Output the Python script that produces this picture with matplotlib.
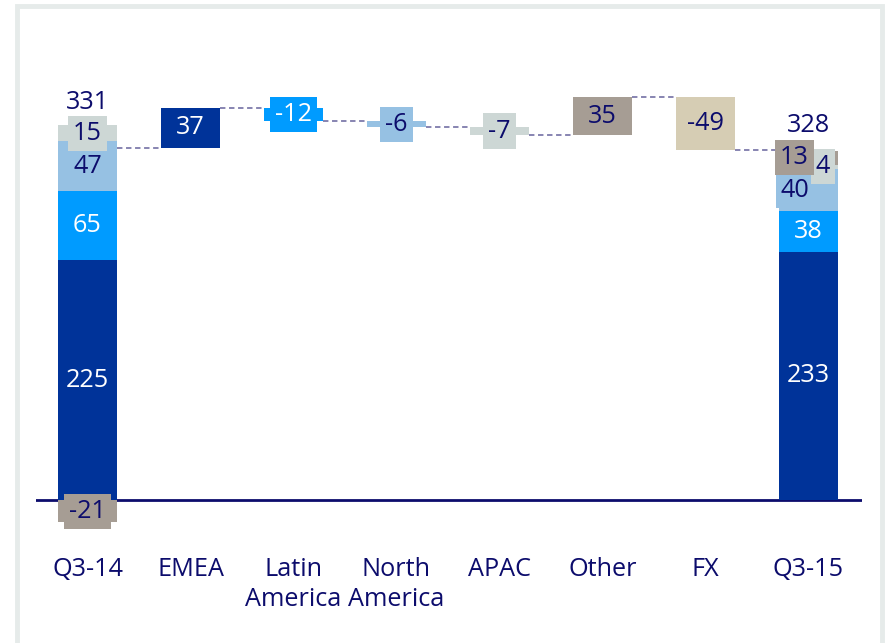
import matplotlib
matplotlib.use("Agg")
import matplotlib.pyplot as plt
from matplotlib.patches import Rectangle

plt.rcParams["font.family"] = ["Open Sans", "DejaVu Sans"]

# ── data ─────────────────────────────────────────────────────────
categories = ["Q3-14", "EMEA", "Latin\nAmerica", "North\nAmerica", "APAC", "Other", "FX", "Q3-15"]

start_parts = [225, 65, 47, 15]          # Q3-14, stacked from zero
start_negative = -21                      # Q3-14 "Other", below the axis
start_total = 331

changes = [37, -12, -6, -7, 35, -49]      # EMEA .. FX

end_parts = [233, 38, 40, 4, 13]          # Q3-15, stacked from zero
end_total = 328

# ── styling ──────────────────────────────────────────────────────
NAVY = "#0c0c6c"
DARK = "#003399"
BRIGHT = "#009bff"
LIGHT = "#96c1e3"
GREY = "#cdd7d5"
BROWN = "#a69d94"
BEIGE = "#d6cdb4"
DASH = "#7e7bab"

start_colors = [DARK, BRIGHT, LIGHT, GREY]
change_colors = [DARK, BRIGHT, LIGHT, GREY, BROWN, BEIGE]
end_colors = [DARK, BRIGHT, LIGHT, GREY, BROWN]
end_label_dx = [0, 0, -0.13, 0.14, -0.14]

WIDTH = 0.573
FS = 18.2


def text_color(c):
    return "white" if c in (DARK, BRIGHT) else NAVY


def seg_label(ax, x, y, value, color):
    ax.text(x, y, f"{value}", ha="center", va="center", fontsize=FS,
            color=text_color(color), zorder=5,
            bbox=dict(boxstyle="square,pad=0.2", fc=color, ec="none"))


fig = plt.figure(figsize=(8.85, 6.43), dpi=100)
ax = fig.add_axes([0.0407, 0.1561, 0.9333, 0.7619])

# Q3-14 stacked bar
bottom = 0
for v, c in zip(start_parts, start_colors):
    ax.bar(0, v, WIDTH, bottom=bottom, color=c, zorder=3)
    seg_label(ax, 0, bottom + v / 2, v, c)
    bottom += v
start_top = bottom
ax.bar(0, start_negative, WIDTH, color=BROWN, zorder=3)
seg_label(ax, 0, start_negative / 2, start_negative, BROWN)
ax.annotate(f"{start_total}", (0, start_top), xytext=(0, 16.5), textcoords="offset points",
            ha="center", va="center", fontsize=FS, color=NAVY)

# floating change bars with dashed connectors
running = start_total
for i, (v, c) in enumerate(zip(changes, change_colors), start=1):
    ax.plot([i - 1 + WIDTH / 2, i - WIDTH / 2], [running, running], ls=(0, (3, 2)),
            color=DASH, lw=1.3, zorder=2)
    ax.bar(i, v, WIDTH, bottom=running, color=c, zorder=3)
    seg_label(ax, i, running + v / 2, v, c)
    running += v

n = len(categories) - 1
ax.plot([n - 1 + WIDTH / 2, n - WIDTH / 2], [running, running], ls=(0, (3, 2)),
        color=DASH, lw=1.3, zorder=2)

# Q3-15 stacked bar
bottom = 0
for v, c, dx in zip(end_parts, end_colors, end_label_dx):
    ax.bar(n, v, WIDTH, bottom=bottom, color=c, zorder=3)
    seg_label(ax, n + dx, bottom + v / 2, v, c)
    bottom += v
ax.annotate(f"{end_total}", (n, bottom), xytext=(0, 18), textcoords="offset points",
            ha="center", va="center", fontsize=FS, color=NAVY)

ax.axhline(0, color=NAVY, lw=2, zorder=1)

ax.set_xlim(-0.5, 7.52)
ax.set_ylim(-40, 420)
ax.set_xticks(range(len(categories)))
ax.set_xticklabels(categories, fontsize=FS, color=NAVY, linespacing=1.3)
ax.tick_params(axis="x", length=0, pad=10)
ax.set_yticks([])
for s in ax.spines.values():
    s.set_visible(False)

# light frame around the panel
fig.patches.append(Rectangle((17 / 885, -0.05), (882 - 17) / 885, 1.0407,
                             transform=fig.transFigure, fill=False,
                             ec="#e6ebea", lw=3.5))

fig.savefig("out.png", dpi=100)
